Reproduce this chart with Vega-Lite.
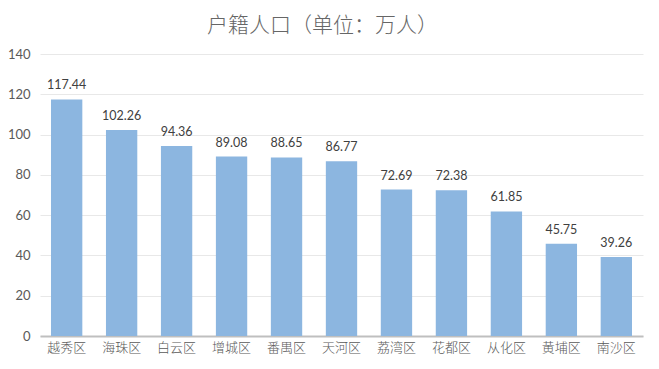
{
  "$schema": "https://vega.github.io/schema/vega-lite/v6.json",
  "width": 603,
  "height": 282,
  "autosize": {"type": "none"},
  "padding": {"left": 40, "top": 54, "right": 16, "bottom": 33},
  "background": "white",
  "title": {
    "text": "户籍人口（单位：万人）",
    "fontSize": 21,
    "font": "Noto Sans CJK SC",
    "fontWeight": 300,
    "color": "#666666",
    "anchor": "middle",
    "dx": -19,
    "offset": 12
  },
  "data": {
    "values": [
      {"district": "越秀区", "pop": 117.44},
      {"district": "海珠区", "pop": 102.26},
      {"district": "白云区", "pop": 94.36},
      {"district": "增城区", "pop": 89.08},
      {"district": "番禺区", "pop": 88.65},
      {"district": "天河区", "pop": 86.77},
      {"district": "荔湾区", "pop": 72.69},
      {"district": "花都区", "pop": 72.38},
      {"district": "从化区", "pop": 61.85},
      {"district": "黄埔区", "pop": 45.75},
      {"district": "南沙区", "pop": 39.26}
    ]
  },
  "encoding": {
    "x": {
      "field": "district",
      "type": "nominal",
      "sort": null,
      "scale": {"paddingInner": 0.43, "paddingOuter": 0.2},
      "axis": {
        "title": null,
        "labelAngle": 0,
        "ticks": false,
        "domainColor": "#BFBFBF",
        "domainWidth": 2,
        "labelFontSize": 13,
        "labelColor": "#595959",
        "labelFont": "Noto Sans CJK SC",
        "labelFontWeight": 300,
        "labelPadding": 5
      }
    },
    "y": {
      "field": "pop",
      "type": "quantitative",
      "scale": {"domain": [0, 140]},
      "axis": {
        "title": null,
        "values": [0, 20, 40, 60, 80, 100, 120, 140],
        "domain": false,
        "ticks": false,
        "gridColor": "#E8E8E8",
        "labelFontSize": 13,
        "labelColor": "#595959",
        "labelFont": "Lato",
        "labelPadding": 10
      }
    }
  },
  "layer": [
    {"mark": {"type": "bar", "color": "#8CB6E0"}},
    {
      "mark": {"type": "text", "dy": -7, "baseline": "bottom", "fontSize": 12.5, "font": "Lato", "color": "#404040"},
      "encoding": {"text": {"field": "pop", "type": "quantitative", "format": ".2f"}}
    }
  ],
  "config": {"view": {"stroke": null}}
}
